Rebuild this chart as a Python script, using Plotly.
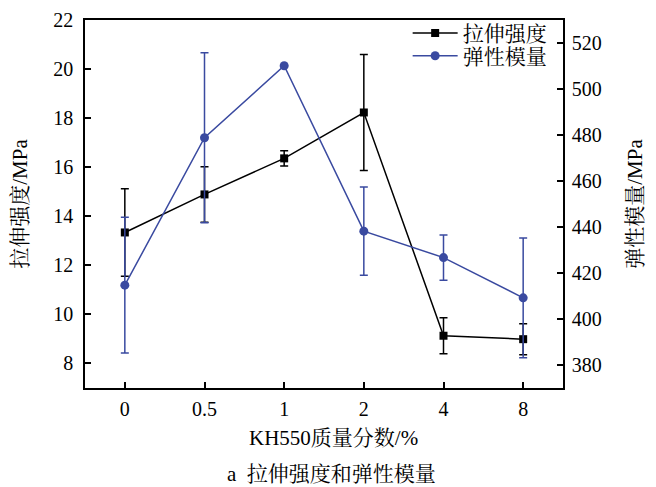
import plotly.graph_objects as go

categories = ["0", "0.5", "1", "2", "4", "8"]
tensile = [13.34, 14.89, 16.36, 18.23, 9.13, 8.99]
tensile_err = [1.78, 1.13, 0.31, 2.36, 0.73, 0.63]
modulus = [414.7, 478.8, 510.1, 438.2, 426.7, 409.2]
modulus_err = [29.5, 37.0, 0.0, 19.2, 9.8, 26.0]
left_ticks = [8, 10, 12, 14, 16, 18, 20, 22]
right_ticks = [380, 400, 420, 440, 460, 480, 500, 520]

BLUE = "#3a4aa0"
FONT = "Liberation Serif, Times New Roman, Noto Serif CJK SC, Noto Sans CJK SC"

fig = go.Figure()
fig.add_trace(go.Scatter(
    x=categories, y=tensile, name="拉伸强度", mode="lines+markers",
    line=dict(color="black", width=1.5),
    marker=dict(symbol="square", size=8, color="black"),
    error_y=dict(type="data", array=tensile_err, color="black", thickness=1.5, width=4),
    yaxis="y", legend="legend",
))
fig.add_trace(go.Scatter(
    x=categories, y=modulus, name="弹性模量", mode="lines+markers",
    line=dict(color=BLUE, width=1.5),
    marker=dict(symbol="circle", size=9, color=BLUE),
    error_y=dict(type="data", array=modulus_err, color=BLUE, thickness=1.5, width=4),
    yaxis="y2", legend="legend2",
))

leg = dict(x=0.675, xanchor="left", yanchor="middle", bgcolor="rgba(0,0,0,0)",
           font=dict(size=21), itemwidth=45)

fig.update_layout(
    width=648, height=479,
    margin=dict(l=77, r=93, t=12, b=99, autoexpand=False),
    paper_bgcolor="white", plot_bgcolor="white",
    font=dict(family=FONT, size=20, color="black"),
    showlegend=True,
    legend=dict(leg, y=0.964),
    legend2=dict(leg, y=0.902),
    xaxis=dict(type="category", range=[-0.5, 5.5], showline=True, linecolor="black",
               linewidth=1.5, mirror=True, ticks="inside", ticklen=6, tickcolor="black",
               tickwidth=1.5, showgrid=False, zeroline=False, automargin=False,
               tickfont=dict(size=20), ticklabelstandoff=2,
               title=dict(text="", font=dict(size=21))),
    yaxis=dict(range=[7, 22], tickvals=left_ticks, showline=True, linecolor="black",
               linewidth=1.5, ticks="inside", ticklen=6, tickcolor="black", tickwidth=1.5,
               showgrid=False, zeroline=False, automargin=False,
               tickfont=dict(size=20), ticklabelstandoff=6,
               title=dict(text="拉伸强度/MPa", font=dict(size=21), standoff=20)),
    yaxis2=dict(range=[370, 530], tickvals=right_ticks, overlaying="y", side="right",
                showline=True, linecolor="black", linewidth=1.5, ticks="inside",
                ticklen=6, tickcolor="black", tickwidth=1.5, showgrid=False,
                zeroline=False, automargin=False,
                tickfont=dict(size=20), ticklabelstandoff=3,
                title=dict(text="弹性模量/MPa", font=dict(size=21), standoff=27)),
    annotations=[
        dict(text="KH550质量分数/%", x=0.519, xref="paper", y=-0.135,
             yref="paper", yanchor="middle", showarrow=False, font=dict(size=21)),
        dict(text="a  拉伸强度和弹性模量", x=0.515, xref="paper", y=-0.233,
             yref="paper", yanchor="middle", showarrow=False, font=dict(size=21)),
    ],
)

fig.write_html("out.html")
